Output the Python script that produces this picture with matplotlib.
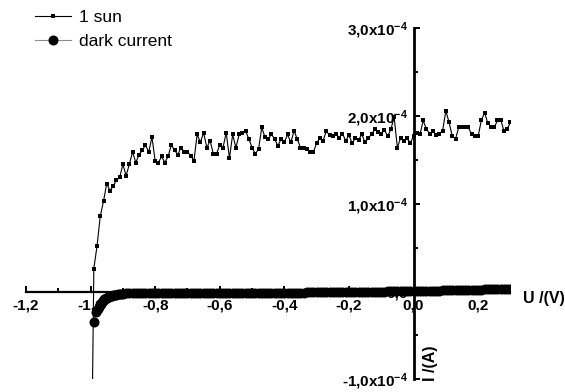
import numpy as np
import matplotlib
matplotlib.use("Agg")
import matplotlib.pyplot as plt
from matplotlib.ticker import MultipleLocator, FixedLocator, FuncFormatter

plt.rcParams['font.family'] = ['Liberation Sans', 'DejaVu Sans']
plt.rcParams['font.weight'] = 'bold'
plt.rcParams['axes.unicode_minus'] = False
plt.rcParams['mathtext.fontset'] = 'custom'
plt.rcParams['mathtext.rm'] = 'Liberation Sans:bold'
plt.rcParams['mathtext.default'] = 'rm'

# Illuminated sweep (1 sun), voltage in V, current in units of 1e-4 A
sun_voltage = np.round(np.arange(-100, 31) * 0.01, 2)
sun_current = [
    -3.00,
    0.26, 0.52, 0.86, 1.03, 1.23, 1.15, 1.20, 1.27, 1.30, 1.45,
    1.32, 1.45, 1.59, 1.47, 1.56, 1.61, 1.67, 1.59, 1.76, 1.49,
    1.47, 1.54, 1.47, 1.54, 1.67, 1.61, 1.56, 1.64, 1.59, 1.59,
    1.55, 1.49, 1.79, 1.70, 1.81, 1.64, 1.72, 1.57, 1.57, 1.67,
    1.64, 1.81, 1.52, 1.79, 1.64, 1.79, 1.81, 1.83, 1.74, 1.64,
    1.57, 1.62, 1.87, 1.76, 1.74, 1.79, 1.74, 1.66, 1.74, 1.70,
    1.79, 1.70, 1.83, 1.74, 1.64, 1.64, 1.62, 1.59, 1.59, 1.69,
    1.75, 1.72, 1.83, 1.78, 1.77, 1.80, 1.75, 1.80, 1.72, 1.78,
    1.69, 1.75, 1.73, 1.79, 1.70, 1.75, 1.79, 1.85, 1.82, 1.80,
    1.84, 1.77, 1.85, 1.99, 1.64, 1.75, 1.72, 1.75, 1.69, 1.77,
    1.81, 1.79, 1.95, 1.85, 1.80, 1.83, 1.78, 1.80, 1.83, 2.06,
    1.93, 1.77, 1.74, 1.87, 1.87, 1.87, 1.87, 1.79, 1.77, 1.77,
    1.95, 2.04, 1.92, 1.88, 1.87, 1.95, 1.96, 1.83, 1.85, 1.93,
]

# Dark sweep: finer steps around the knee, then 10 mV steps
dark_voltage_knee = [-0.99, -0.982, -0.978, -0.975, -0.972, -0.969, -0.966,
                     -0.963, -0.96, -0.957, -0.954, -0.951, -0.948, -0.945,
                     -0.942, -0.939, -0.936, -0.933, -0.93, -0.925, -0.92,
                     -0.915, -0.91, -0.905, -0.90]
dark_current_knee = [-0.35, -0.235, -0.2, -0.175, -0.155, -0.138, -0.123,
                     -0.11, -0.099, -0.089, -0.081, -0.074, -0.068, -0.062,
                     -0.057, -0.053, -0.049, -0.046, -0.043, -0.039, -0.035,
                     -0.032, -0.029, -0.026, -0.024]
dark_voltage_main = np.round(np.arange(-89, 31) * 0.01, 2)
dark_current_main = [
    -0.022, -0.022, -0.021, -0.021, -0.021, -0.020, -0.020, -0.020, -0.020, -0.019,
    -0.019, -0.019, -0.019, -0.019, -0.018, -0.018, -0.018, -0.018, -0.018, -0.018,
    -0.017, -0.017, -0.017, -0.017, -0.017, -0.017, -0.016, -0.016, -0.016, -0.016,
    -0.016, -0.016, -0.016, -0.015, -0.015, -0.015, -0.015, -0.015, -0.015, -0.015,
    -0.014, -0.014, -0.014, -0.014, -0.014, -0.013, -0.013, -0.013, -0.013, -0.013,
    -0.012, -0.012, -0.012, -0.011, -0.011, -0.011, -0.010, -0.010, -0.010, -0.009,
    -0.009, -0.009, -0.008, -0.008, -0.007, -0.007, -0.007, -0.006, -0.006, -0.005,
    -0.005, -0.004, -0.004, -0.003, -0.003, -0.002, -0.002, -0.001, -0.001, 0.000,
    0.000, 0.001, 0.001, 0.002, 0.002, 0.003, 0.004, 0.004, 0.005, 0.006,
    0.006, 0.007, 0.008, 0.008, 0.009, 0.010, 0.011, 0.011, 0.012, 0.013,
    0.014, 0.015, 0.015, 0.016, 0.017, 0.018, 0.019, 0.020, 0.021, 0.022,
    0.023, 0.024, 0.025, 0.026, 0.027, 0.028, 0.029, 0.030, 0.031, 0.032,
]

x_ticks = [-1.2, -1.0, -0.8, -0.6, -0.4, -0.2, 0.0, 0.2]
y_ticks = [-1.0, 0.0, 1.0, 2.0, 3.0]

dark_voltage = np.concatenate([dark_voltage_knee, dark_voltage_main])
dark_current = np.concatenate([dark_current_knee, dark_current_main])

fig = plt.figure(figsize=(5.65, 3.92), dpi=100)
ax = fig.add_axes([26 / 565, 12.7 / 392, 484.4 / 565, 351 / 392])

ax.plot(sun_voltage, sun_current, color='black', lw=0.8, marker='s',
        markersize=3.4, markeredgewidth=0, zorder=4, label='1 sun')
ax.plot(dark_voltage, dark_current, color='#8c8c8c', lw=0.8, marker='o',
        markersize=7.2, markerfacecolor='black', markeredgecolor='black',
        markeredgewidth=0, zorder=3, label='dark current')

ax.set_xlim(-1.2, 0.3)
ax.set_ylim(-1.0, 3.0)

for side in ('top', 'right'):
    ax.spines[side].set_visible(False)
ax.spines['left'].set_position(('data', 0))
ax.spines['bottom'].set_position(('data', 0))
ax.spines['left'].set_linewidth(2.0)
ax.spines['bottom'].set_linewidth(1.6)

ax.xaxis.set_major_locator(FixedLocator(x_ticks))
ax.xaxis.set_minor_locator(MultipleLocator(0.1))
ax.yaxis.set_major_locator(FixedLocator(y_ticks))
ax.yaxis.set_minor_locator(MultipleLocator(0.5))


def fmt_x(v, pos):
    return f'{v:.1f}'.replace('.', ',')


def fmt_y(v, pos):
    if abs(v) < 1e-9:
        return '0,0'
    return f'{v:.1f}'.replace('.', ',') + r'x10$^{-4}$'


ax.xaxis.set_major_formatter(FuncFormatter(fmt_x))
ax.yaxis.set_major_formatter(FuncFormatter(fmt_y))

ax.tick_params(axis='both', which='major', direction='in', length=4.3,
               width=1.4, labelsize=11, color='black')
ax.tick_params(axis='both', which='minor', direction='in', length=3.0,
               width=1.4, color='black')
ax.tick_params(axis='x', which='major', pad=5)
ax.tick_params(axis='y', which='major', pad=4)

fig.text(544 / 565, 1 - 298 / 392, 'U /(V)', fontsize=11.5, fontweight='bold',
         ha='center', va='center')
fig.text(431 / 565, 1 - 363 / 392, 'I /(A)', fontsize=11.5, fontweight='bold',
         rotation=90, ha='center', va='center')

leg = fig.legend(loc='upper left', bbox_to_anchor=(35 / 565, 1 - 10 / 392),
                 frameon=False, prop={'weight': 'normal', 'size': 12.5},
                 handlelength=2.1, handletextpad=0.45, labelspacing=0.5,
                 borderpad=0, borderaxespad=0)

fig.savefig('out.png', dpi=100)
